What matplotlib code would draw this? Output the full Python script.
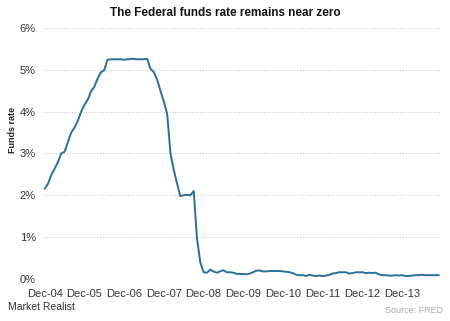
import matplotlib
matplotlib.use("Agg")
import matplotlib.pyplot as plt
import pandas as pd

plt.rcParams['font.family'] = ['Liberation Sans', 'DejaVu Sans']

months = pd.date_range("2004-12-01", "2014-11-01", freq="MS")
rates = [
    2.16,
    2.28, 2.50, 2.63, 2.79, 3.00, 3.04, 3.26, 3.50, 3.62, 3.78, 4.00, 4.16,
    4.29, 4.49, 4.59, 4.79, 4.94, 4.99, 5.24, 5.25, 5.25, 5.25, 5.25, 5.24,
    5.25, 5.26, 5.26, 5.25, 5.25, 5.25, 5.26, 5.02, 4.94, 4.76, 4.49, 4.24,
    3.94, 2.98, 2.61, 2.28, 1.98, 2.00, 2.01, 2.00, 2.10, 0.97, 0.39, 0.16,
    0.15, 0.22, 0.18, 0.15, 0.18, 0.21, 0.16, 0.16, 0.15, 0.12, 0.12, 0.12,
    0.11, 0.13, 0.16, 0.20, 0.20, 0.18, 0.18, 0.19, 0.19, 0.19, 0.19, 0.18,
    0.17, 0.16, 0.14, 0.10, 0.09, 0.09, 0.07, 0.10, 0.08, 0.07, 0.08, 0.07,
    0.08, 0.10, 0.13, 0.14, 0.16, 0.16, 0.16, 0.13, 0.14, 0.16, 0.16, 0.16,
    0.14, 0.15, 0.14, 0.15, 0.11, 0.09, 0.09, 0.08, 0.08, 0.09, 0.08, 0.09,
    0.07, 0.07, 0.08, 0.09, 0.09, 0.10, 0.09, 0.09, 0.09, 0.09, 0.09,
]
tick_years = list(range(2004, 2014))
tick_labels = ["Dec-%02d" % (y % 100) for y in tick_years]
y_ticks = [0, 1, 2, 3, 4, 5, 6]

fig = plt.figure(figsize=(4.5, 3.21), dpi=100)
ax = fig.add_axes([0.098, 0.131, 0.88, 0.782])
ax.plot(months, rates, color="#2b6f97", lw=1.4)

ax.set_ylim(0, 6)
ax.set_yticks(y_ticks)
ax.set_yticklabels(["%d%%" % v for v in y_ticks])
ax.set_xlim(pd.Timestamp("2004-11-25"), pd.Timestamp("2014-11-15"))
ax.set_xticks([pd.Timestamp("%d-12-01" % y) for y in tick_years])
ax.set_xticklabels(tick_labels)
for s in ax.spines.values():
    s.set_visible(False)
ax.tick_params(length=0, labelsize=8, labelcolor="#333333")
ax.tick_params(axis='x', pad=7)
ax.tick_params(axis='y', pad=6)
ax.grid(axis='y', color="#cccccc", linestyle=(0, (1, 1.5)), lw=0.8)
ax.set_axisbelow(True)

fig.text(0.5, 0.958, "The Federal funds rate remains near zero", ha="center",
         va="center", fontsize=8.5, fontweight="bold", color="#111111")
fig.text(0.027, 0.595, "Funds rate", rotation=90, ha="center", va="center",
         fontsize=6.5, fontweight="bold", color="#222222")
fig.text(0.018, 0.043, "Market Realist", ha="left", va="center", fontsize=7.5,
         color="#333333")
fig.text(0.985, 0.033, "Source: FRED", ha="right", va="center", fontsize=6.5,
         color="#aaaaaa")

fig.savefig("out.png", dpi=100)
